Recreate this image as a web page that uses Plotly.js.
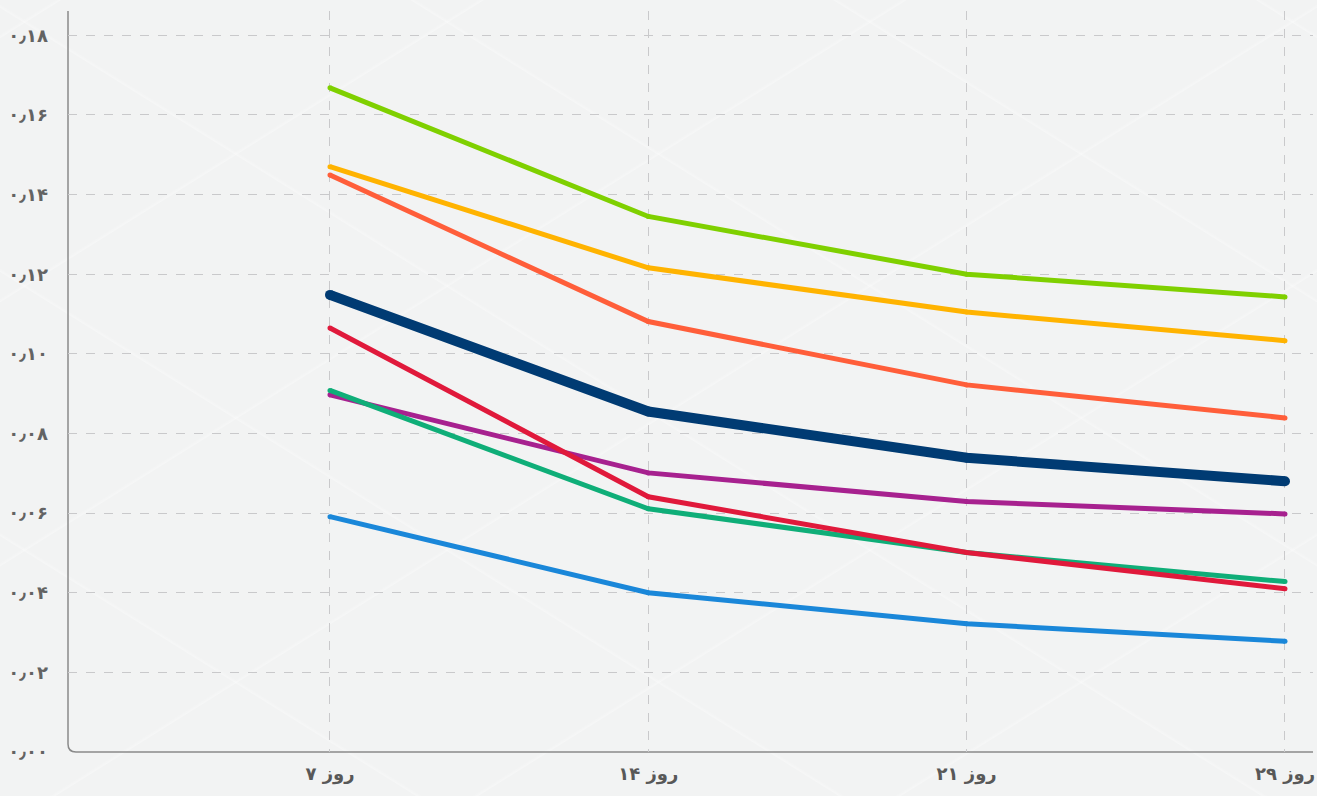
<!DOCTYPE html>
<html>
<head>
<meta charset="utf-8">
<script src="https://cdn.plot.ly/plotly-3.0.1.min.js"></script>
<style>
  html, body { margin: 0; padding: 0; }
  body {
    width: 1317px; height: 796px; overflow: hidden;
    background-color: #f2f3f3;
    background-image:
      repeating-linear-gradient(32deg, rgba(255,255,255,0) 0px, rgba(255,255,255,0) 220px, rgba(255,255,255,0.3) 221px, rgba(255,255,255,0) 224px),
      repeating-linear-gradient(-32deg, rgba(255,255,255,0) 0px, rgba(255,255,255,0) 220px, rgba(255,255,255,0.3) 221px, rgba(255,255,255,0) 224px);
  }
  #chart { width: 1317px; height: 796px; }
</style>
</head>
<body>
<div id="chart"></div>
<script>
// Sampling days on the horizontal axis
const days = ['روز ۷', 'روز ۱۴', 'روز ۲۱', 'روز ۲۹'];

// Series values per day
const seriesGreen  = [0.1668, 0.1345, 0.1200, 0.1143];
const seriesYellow = [0.1470, 0.1216, 0.1105, 0.1033];
const seriesOrange = [0.1449, 0.1081, 0.0922, 0.0839];
const seriesNavy   = [0.1148, 0.0855, 0.0739, 0.0680];
const seriesRed    = [0.1065, 0.0641, 0.0501, 0.0410];
const seriesTeal   = [0.0908, 0.0611, 0.0501, 0.0428];
const seriesPurple = [0.0897, 0.0701, 0.0629, 0.0598];
const seriesBlue   = [0.0591, 0.0400, 0.0322, 0.0278];

// Vertical axis ticks and their Persian labels
const yTickVals = [0, 0.02, 0.04, 0.06, 0.08, 0.10, 0.12, 0.14, 0.16, 0.18];
const yTickText = ['۰٫۰۰', '۰٫۰۲', '۰٫۰۴', '۰٫۰۶', '۰٫۰۸', '۰٫۱۰', '۰٫۱۲', '۰٫۱۴', '۰٫۱۶', '۰٫۱۸'];

function lineTrace(name, values, color, width) {
  return {
    type: 'scatter',
    mode: 'lines+markers',
    name: name,
    x: days,
    y: values,
    line: { color: color, width: width, shape: 'linear' },
    marker: { color: color, size: width, line: { width: 0 } },
    hoverinfo: 'skip'
  };
}

const traces = [
  lineTrace('blue',   seriesBlue,   '#1a87d9', 5),
  lineTrace('purple', seriesPurple, '#a7218f', 5),
  lineTrace('teal',   seriesTeal,   '#0fae78', 5),
  lineTrace('red',    seriesRed,    '#e0193b', 5),
  lineTrace('orange', seriesOrange, '#ff5e3a', 5),
  lineTrace('yellow', seriesYellow, '#ffb300', 5),
  lineTrace('green',  seriesGreen,  '#7fd000', 5),
  lineTrace('navy',   seriesNavy,   '#003b73', 10)
];

const layout = {
  width: 1317,
  height: 796,
  margin: { l: 68, r: 4, t: 11, b: 44 },
  paper_bgcolor: 'rgba(0,0,0,0)',
  plot_bgcolor: 'rgba(0,0,0,0)',
  showlegend: false,
  font: { family: 'DejaVu Sans, sans-serif', color: '#5c5c5c' },
  xaxis: {
    type: 'category',
    range: [-0.823, 3.088],
    showgrid: true,
    gridcolor: '#c9c9cb',
    griddash: 'dash',
    gridwidth: 1,
    showline: false,
    zeroline: false,
    ticks: '',
    tickfont: { size: 18, color: '#585858', family: 'DejaVu Sans, sans-serif', weight: 'bold' },
    ticklabelstandoff: 9
  },
  yaxis: {
    range: [0, 0.1861],
    tickvals: yTickVals,
    ticktext: yTickText,
    showgrid: true,
    gridcolor: '#c9c9cb',
    griddash: 'dash',
    gridwidth: 1,
    showline: false,
    zeroline: false,
    ticks: '',
    tickfont: { size: 18, color: '#636363', family: 'DejaVu Sans, sans-serif', weight: 'bold' },
    ticklabelstandoff: 19
  },
  shapes: [
    {
      // axis frame with a rounded lower-left corner
      type: 'path',
      xref: 'paper', yref: 'paper',
      path: 'M 0 1 L 0 0.0108 Q 0 0 0.0064 0 L 1 0',
      line: { color: '#8a8a8a', width: 1.5 },
      layer: 'below'
    }
  ]
};

Plotly.newPlot('chart', traces, layout, { displayModeBar: false, staticPlot: true });
</script>
</body>
</html>
